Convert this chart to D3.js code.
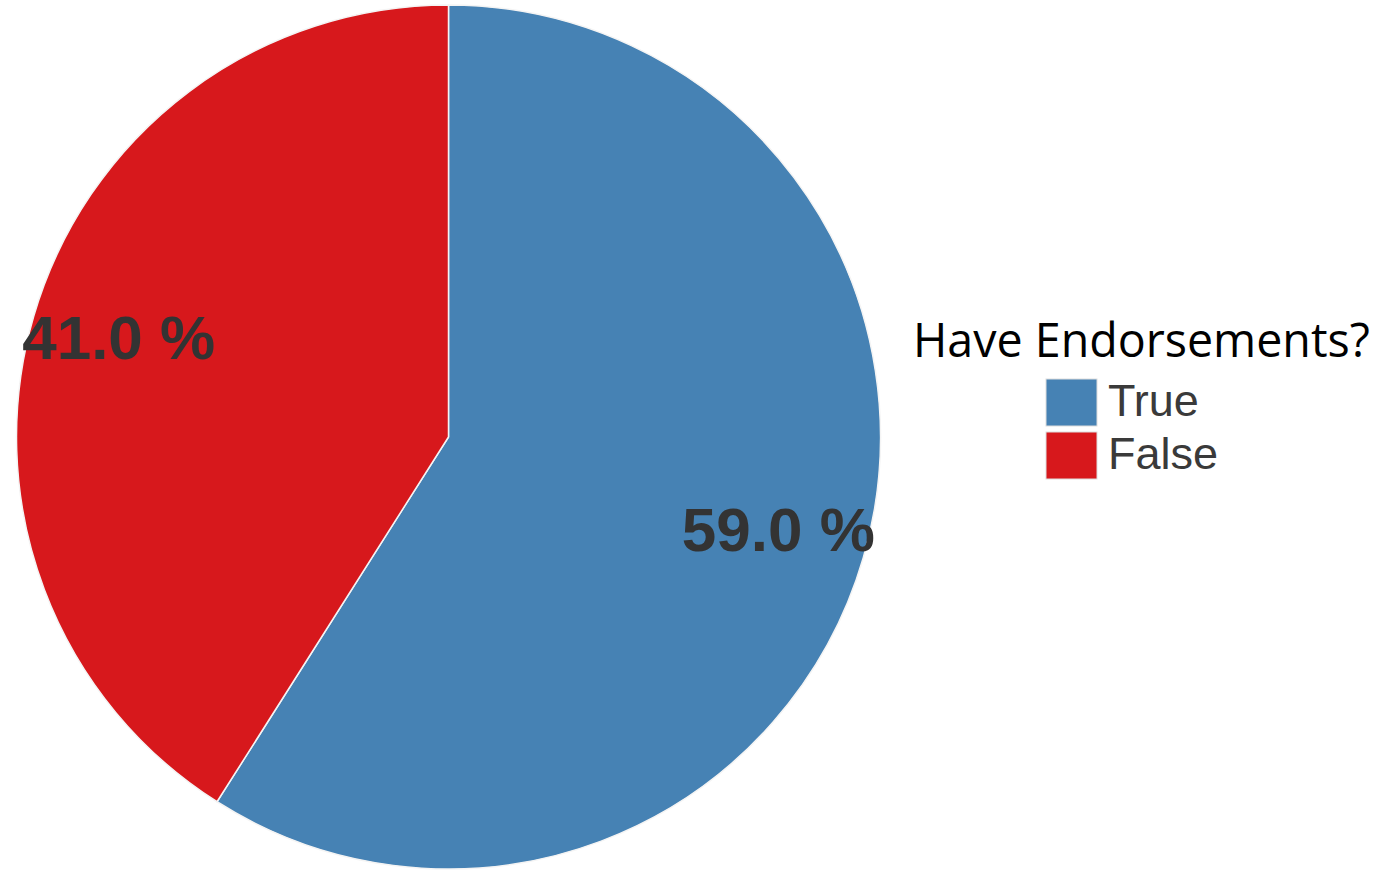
<!DOCTYPE html>
<html><head><meta charset="utf-8">
<script src="https://cdn.jsdelivr.net/npm/d3@7"></script>
<style>body{margin:0;background:#fff;}svg{display:block;}</style>
</head><body>
<svg id="chart" width="1389" height="873"></svg>
<script>
const categories = ["True", "False"];
const values = [59.0, 41.0];
const colors = ["#4682b4", "#d7181c"];
const legendTitle = "Have Endorsements?";

const svg = d3.select("#chart");
const cx = 448.5, cy = 437, R = 432;
const pie = d3.pie().sort(null).value(d => d.v);
const data = pie(categories.map((c, i) => ({c, v: values[i]})));
const arc = d3.arc().innerRadius(0).outerRadius(R);
const color = d3.scaleOrdinal().domain(categories).range(colors);

const g = svg.append("g").attr("transform", `translate(${cx},${cy})`);
g.selectAll("path").data(data).enter().append("path")
  .attr("d", arc).attr("fill", d => color(d.data.c))
  .attr("stroke", "#f4f4f4").attr("stroke-width", 1.5);

const labelArc = d3.arc().innerRadius(R * 0.795).outerRadius(R * 0.795);
const fs = 62;
g.selectAll("text.lbl").data(data).enter().append("text")
  .attr("class", "lbl")
  .attr("transform", d => `translate(${labelArc.centroid(d)})`)
  .attr("text-anchor", "middle")
  .attr("dy", fs * 0.358 - 4)
  .attr("font-family", "Liberation Sans, Arial, sans-serif")
  .attr("font-weight", "bold")
  .attr("font-size", fs)
  .attr("fill", "#333333")
  .text(d => d.data.v.toFixed(1) + " %");

// legend
const lg = svg.append("g");
const title = lg.append("text")
  .attr("x", 913).attr("y", 357)
  .attr("font-family", "Open Sans, DejaVu Sans, sans-serif")
  .attr("font-size", 40)
  .attr("fill", "#000")
  .text(legendTitle);
const tw = title.node().getComputedTextLength();
title.attr("font-size", 40 * 457 / tw);

const items = lg.selectAll("g.item").data(categories).enter().append("g")
  .attr("class", "item")
  .attr("transform", (d, i) => `translate(1046,${379 + i * 53})`);
items.append("rect").attr("width", 51).attr("height", 47)
  .attr("fill", d => color(d))
  .attr("stroke", "#ddd").attr("stroke-width", 1);
items.append("text").attr("x", 62).attr("y", 37)
  .attr("font-family", "Liberation Sans, Arial, sans-serif")
  .attr("font-size", 45)
  .attr("fill", "#3a3a3a")
  .text(d => d);
</script>
</body></html>
